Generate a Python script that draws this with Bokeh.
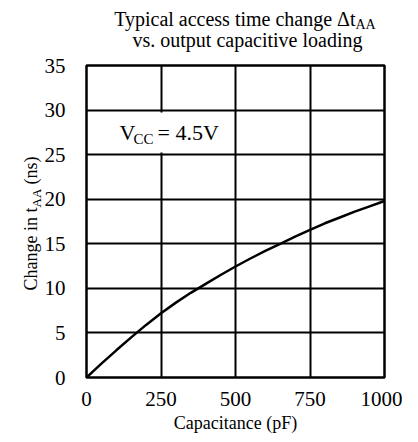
from bokeh.plotting import figure
from bokeh.models import Label, FixedTicker
from bokeh.embed import file_html
from bokeh.resources import INLINE
import math

# ---- data ----
capacitance_pf = [0, 50, 100, 150, 200, 250, 300, 350, 400, 450, 500,
                  550, 600, 650, 700, 750, 800, 850, 900, 950, 1000]
delta_taa_ns = [0.0, 1.55, 3.05, 4.5, 5.9, 7.2, 8.4, 9.5, 10.5, 11.5, 12.45,
                13.35, 14.2, 15.0, 15.8, 16.55, 17.3, 17.95, 18.6, 19.2, 19.8]
x_ticks = [0, 250, 500, 750, 1000]
y_ticks = [0, 5, 10, 15, 20, 25, 30, 35]

SERIF = "Liberation Serif"

FRAME_L, FRAME_T, FRAME_W, FRAME_H = 86, 65, 298, 312
B_RIGHT, B_BOTTOM = 18, 56
W, H = FRAME_L + FRAME_W + B_RIGHT, FRAME_T + FRAME_H + B_BOTTOM

p = figure(width=W, height=H, output_backend="svg", toolbar_location=None,
           x_range=(0, 1000), y_range=(0, 35),
           min_border_left=FRAME_L, min_border_top=FRAME_T,
           min_border_right=B_RIGHT, min_border_bottom=B_BOTTOM,
           frame_width=FRAME_W, frame_height=FRAME_H)
p.background_fill_color = "white"
p.border_fill_color = "white"
p.outline_line_color = "black"
p.outline_line_width = 2.5

for ax in (p.xaxis[0], p.yaxis[0]):
    ax.axis_line_color = None
    ax.major_tick_line_color = None
    ax.minor_tick_line_color = None
    ax.major_label_text_font = SERIF
    ax.major_label_text_font_size = "21px"
    ax.major_label_text_color = "black"

p.xaxis.ticker = FixedTicker(ticks=x_ticks)
p.yaxis.ticker = FixedTicker(ticks=y_ticks)
p.xaxis.major_label_standoff = 8
p.yaxis.major_label_standoff = 15
p.xaxis.axis_label = "Capacitance (pF)"
p.xaxis.axis_label_text_font = SERIF
p.xaxis.axis_label_text_font_size = "18px"
p.xaxis.axis_label_text_font_style = "normal"
p.xaxis.axis_label_text_color = "black"
p.xaxis.axis_label_standoff = 4

p.xgrid.ticker = FixedTicker(ticks=x_ticks)
p.ygrid.ticker = FixedTicker(ticks=y_ticks)
for g in (p.xgrid[0], p.ygrid[0]):
    g.grid_line_color = "black"
    g.grid_line_width = 2

p.line(capacitance_pf, delta_taa_ns, line_color="black", line_width=2.5)


# reference pixel -> data coordinates (annotations inside the frame)
def dx(px):
    return (px - 87) / FRAME_W * 1000


def dy(py):
    return (378 - py) / FRAME_H * 35


# reference pixel -> canvas pixel (annotations outside the frame)
def cx(px):
    return px - 1


def cy(py):
    return py - 1


def size_px(size):
    return float(size.replace("px", ""))


p.quad(left=[dx(89)], right=[dx(232)], bottom=[dy(153)], top=[dy(113)],
       fill_color="white", line_color=None)


def lab(text, x, y, size, align="left", angle=0.0, units="data"):
    return Label(x=x, y=y, x_units=units, y_units=units, text=text,
                 text_font=SERIF, text_font_size=size,
                 text_color="black", text_align=align,
                 text_baseline="alphabetic", angle=angle)


def hlab_data(text, px, base_py, size, align="left"):
    py = base_py - 0.22 * size_px(size)
    p.add_layout(lab(text, dx(px), dy(py), size, align=align))


def hlab_canvas(text, px, base_py, size, align="left", panel="above"):
    py = base_py - 0.22 * size_px(size)
    p.add_layout(lab(text, cx(px), cy(py), size, align=align, units="canvas"), panel)


def vlab_canvas(text, base_px, py, size, align="left", panel="left"):
    px = base_px - 0.22 * size_px(size)
    p.add_layout(lab(text, cx(px), cy(py), size, align=align,
                     angle=math.pi / 2, units="canvas"), panel)


# V_CC = 4.5V
hlab_data("V", 120, 138, "22px")
hlab_data("CC", 134, 143, "15px")
hlab_data("= 4.5V", 158, 138, "22px")

# title
hlab_canvas("vs. output capacitive loading", 248, 45, "20px", align="center")
hlab_canvas("AA", 356, 28, "14px")
hlab_canvas("Typical access time change \u0394t", 356, 24, "20px", align="right")

# y axis label
vlab_canvas("Change in t", 35, 208, "18px", align="right")
vlab_canvas("(ns)", 35, 185, "18px")
vlab_canvas("AA", 40, 208, "13px", panel="right")

open("out.html", "w").write(file_html(p, INLINE))
